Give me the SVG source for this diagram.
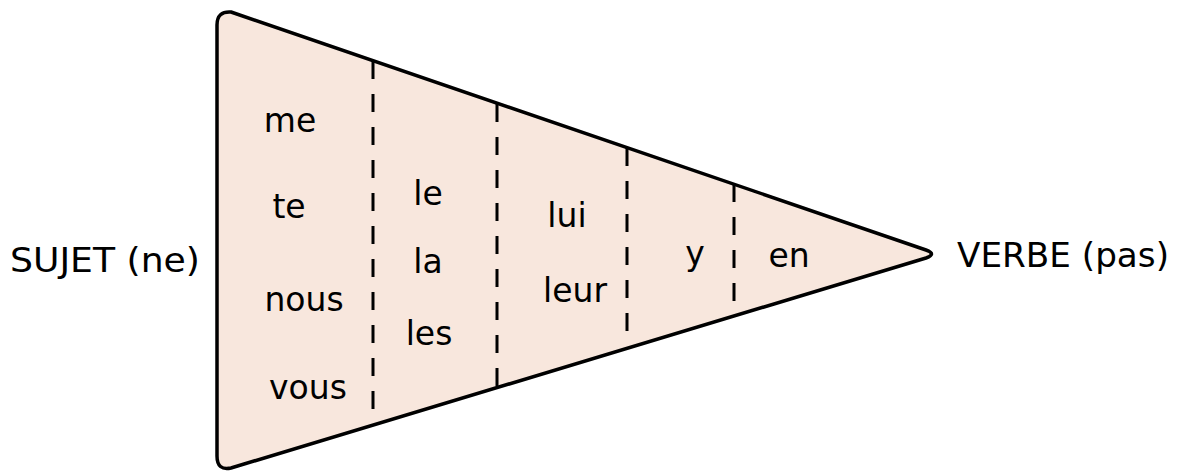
<svg xmlns="http://www.w3.org/2000/svg" width="1178" height="472" viewBox="0 0 1178 472">
  <style>
    .t { font-family: "DejaVu Sans", Verdana, sans-serif; font-size: 33px; fill: #000; text-anchor: middle; }
    .lbl { font-family: "DejaVu Sans", Verdana, sans-serif; font-size: 33px; fill: #000; }
    .dash { stroke: #000; stroke-width: 3; stroke-dasharray: 18 15; fill: none; }
  </style>
  <rect width="1178" height="472" fill="#ffffff"/>
  <g id="wedge">
    <path d="M 217,25 Q 217,11 231,12 L 926,250 Q 937,254 926,258 L 231,468 Q 217,471 217,456 Z" fill="#f8e7dd" stroke="#000" stroke-width="3.5" stroke-linejoin="round"/>
  </g>
  <g id="connectors">
    <line class="dash" x1="373" y1="61" x2="373" y2="424"/>
    <line class="dash" x1="497" y1="104" x2="497" y2="387"/>
    <line class="dash" x1="627" y1="148" x2="627" y2="337"/>
    <line class="dash" x1="734" y1="184" x2="734" y2="304"/>
  </g>
  <g id="sujet"><text class="lbl" x="10" y="272" textLength="190" lengthAdjust="spacingAndGlyphs">SUJET (ne)</text></g>
  <g id="verbe"><text class="lbl" x="957" y="267" textLength="212" lengthAdjust="spacingAndGlyphs">VERBE (pas)</text></g>
  <g id="col1">
    <text class="t" x="290" y="132">me</text>
    <text class="t" x="289" y="218">te</text>
    <text class="t" x="304" y="311">nous</text>
    <text class="t" x="308" y="399">vous</text>
  </g>
  <g id="col2">
    <text class="t" x="428" y="205">le</text>
    <text class="t" x="428" y="273">la</text>
    <text class="t" x="429" y="345">les</text>
  </g>
  <g id="col3">
    <text class="t" x="567" y="227">lui</text>
    <text class="t" x="575" y="302">leur</text>
  </g>
  <g id="col4"><text class="t" x="695" y="265">y</text></g>
  <g id="col5"><text class="t" x="789" y="267">en</text></g>
</svg>
